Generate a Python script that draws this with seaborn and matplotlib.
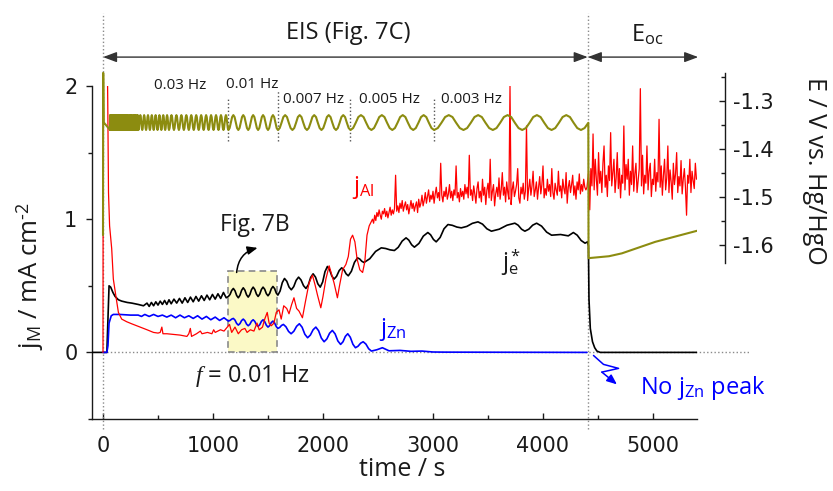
import numpy as np
import pandas as pd
import matplotlib
matplotlib.use("Agg")
import matplotlib.pyplot as plt
import seaborn as sns
from matplotlib.patches import Rectangle
from matplotlib.ticker import FixedLocator

# ---------------- data ----------------
# j_e* (black): time / s and current density / mA cm-2
je_t = [-100, 35, 45, 55, 70, 90, 110, 140, 170, 220, 262, 320, 368,
        400, 420, 440, 460, 480, 500, 520, 540, 560, 580, 600, 620,
        645, 670, 695, 720, 745, 770, 795, 820, 845, 870, 895, 920, 945, 970, 995, 1020, 1045, 1070, 1095, 1120,
        1140, 1155, 1170, 1185, 1200, 1215, 1230, 1245, 1260, 1275, 1290, 1305, 1320, 1335, 1350, 1365,
        1380, 1395, 1410, 1425, 1440, 1455, 1470, 1485, 1500, 1515, 1530, 1545, 1560, 1575,
        1590, 1610, 1630, 1650, 1671, 1691, 1712, 1734, 1756, 1778, 1800, 1823, 1845, 1867, 1888,
        1910, 1932, 1953, 1975, 1997, 2018, 2040, 2060, 2080, 2100, 2123, 2147, 2170, 2190, 2210,
        2230, 2258, 2286, 2314, 2334, 2353, 2373, 2425, 2478, 2530, 2570, 2609, 2649, 2684, 2720,
        2755, 2780, 2806, 2831, 2872, 2912, 2953, 2978, 3004, 3029, 3065, 3100, 3136, 3176, 3217,
        3257, 3308, 3358, 3409, 3450, 3490, 3531, 3602, 3673, 3744, 3774, 3805, 3835, 3871, 3906,
        3942, 3987, 4033, 4078, 4160, 4230, 4276, 4311, 4347, 4382, 4405,
        4413, 4418, 4430, 4450, 4470, 4490, 4520, 5400]
je_v = [0, 0, 0.25, 0.50, 0.49, 0.45, 0.42, 0.395, 0.385, 0.375, 0.37, 0.36, 0.35,
        0.37, 0.345, 0.375, 0.35, 0.38, 0.355, 0.385, 0.36, 0.39, 0.36, 0.395, 0.365,
        0.40, 0.37, 0.405, 0.37, 0.41, 0.375, 0.415, 0.38, 0.42, 0.385, 0.425, 0.39, 0.43, 0.395, 0.435, 0.40, 0.44, 0.405, 0.45, 0.41,
        0.42, 0.435, 0.465, 0.48, 0.4625, 0.4275, 0.41, 0.429, 0.466, 0.485, 0.4675, 0.4325, 0.415, 0.434, 0.471, 0.49,
        0.4725, 0.4375, 0.42, 0.4375, 0.4725, 0.49, 0.474, 0.441, 0.425, 0.4425, 0.4775, 0.495, 0.479, 0.446,
        0.43, 0.461, 0.524, 0.555, 0.534, 0.491, 0.47, 0.494, 0.541, 0.565, 0.544, 0.501, 0.48, 0.508, 0.563,
        0.59, 0.565, 0.515, 0.49, 0.529, 0.606, 0.645, 0.621, 0.574, 0.55, 0.571, 0.614, 0.635, 0.62, 0.59,
        0.575, 0.609, 0.676, 0.71, 0.701, 0.684, 0.675, 0.703, 0.758, 0.785, 0.78, 0.77, 0.765, 0.789, 0.836,
        0.86, 0.843, 0.808, 0.79, 0.818, 0.873, 0.90, 0.883, 0.848, 0.83, 0.863, 0.928, 0.96, 0.954, 0.941,
        0.935, 0.946, 0.969, 0.98, 0.963, 0.928, 0.91, 0.925, 0.955, 0.97, 0.955, 0.925, 0.91, 0.925, 0.955,
        0.97, 0.948, 0.903, 0.88, 0.885, 0.875, 0.90, 0.88, 0.84, 0.82, 0.83,
        0.80, 0.40, 0.18, 0.08, 0.035, 0.01, 0.0, 0.0]

# j_Zn (blue)
jzn_t = [0, 35, 45, 55, 75, 94, 150, 250,
         320, 350, 380, 420, 460, 500, 540, 580, 620, 660, 700, 740, 780, 820, 860, 900, 940, 980, 1020, 1060, 1100,
         1140, 1155, 1170, 1185, 1200, 1215, 1230, 1245, 1260, 1275, 1290, 1305, 1320, 1335, 1350, 1365,
         1380, 1395, 1410, 1425, 1440, 1455, 1470, 1485, 1500, 1515, 1530, 1545, 1560, 1575,
         1590, 1607, 1623, 1640, 1663, 1687, 1710, 1735, 1760, 1785, 1810, 1835, 1860, 1885, 1910,
         1935, 1960, 1985, 2010, 2035, 2060, 2085, 2110, 2135, 2160, 2182, 2203, 2225, 2248, 2272,
         2295, 2318, 2342, 2365, 2390, 2415, 2440, 2490, 2540, 2600, 2700, 2800, 2900, 3000, 3100, 4400]
jzn_v = [0, 0, 0.05, 0.22, 0.275, 0.285, 0.285, 0.28,
         0.28, 0.27, 0.285, 0.27, 0.285, 0.27, 0.28, 0.265, 0.28, 0.26, 0.28, 0.26, 0.275, 0.255, 0.275, 0.25, 0.27, 0.245, 0.265, 0.24, 0.26,
         0.235, 0.24, 0.25, 0.255, 0.2425, 0.2175, 0.205, 0.216, 0.239, 0.25, 0.2375, 0.2125, 0.20, 0.211, 0.234, 0.245,
         0.2325, 0.2075, 0.195, 0.2075, 0.2325, 0.245, 0.231, 0.204, 0.19, 0.201, 0.224, 0.235, 0.221, 0.194,
         0.18, 0.1875, 0.2025, 0.21, 0.1925, 0.1575, 0.14, 0.159, 0.196, 0.215, 0.189, 0.136, 0.11, 0.13, 0.17,
         0.19, 0.1625, 0.1075, 0.08, 0.101, 0.144, 0.165, 0.139, 0.086, 0.06, 0.08, 0.12, 0.14, 0.114, 0.061,
         0.035, 0.046, 0.069, 0.08, 0.0625, 0.0275, 0.01, 0.02, 0.035, 0.012, 0.015, 0.008, 0.01, 0.003, 0.002, 0.0]

# j_Al (red): start-up transient and the slow EIS blocks
jal_t = [0, 2, 38, 43, 50, 60, 79, 94, 110, 125, 140, 170, 216, 260, 338, 400, 459, 500, 520, 535,
         545, 581, 640, 700, 763, 780, 794, 805, 850, 885, 900, 950, 990, 1006, 1020, 1068, 1100, 1130,
         1150, 1170, 1200, 1230, 1260, 1290, 1310, 1340, 1372, 1400, 1420, 1450, 1470, 1493, 1510, 1530, 1554, 1575, 1600, 1620,
         1643, 1670, 1691, 1715, 1736, 1760, 1782, 1813, 1840, 1873, 1904, 1930, 1950, 1980, 2000, 2026, 2056, 2080, 2101, 2131,
         2150, 2178, 2208, 2230, 2250, 2269, 2290, 2310, 2335, 2360, 2380, 2400, 2420]
jal_v = [0, 2.3, 2.3, 1.9, 1.2, 0.95, 0.78, 0.55, 0.46, 0.38, 0.30, 0.25, 0.23, 0.215, 0.19, 0.17, 0.15, 0.145, 0.15, 0.19,
         0.14, 0.14, 0.135, 0.13, 0.12, 0.14, 0.18, 0.12, 0.14, 0.16, 0.14, 0.15, 0.14, 0.17, 0.15, 0.17, 0.16, 0.19,
         0.21, 0.15, 0.19, 0.14, 0.17, 0.18, 0.15, 0.17, 0.16, 0.22, 0.17, 0.19, 0.25, 0.30, 0.22, 0.20, 0.22, 0.30, 0.32, 0.25,
         0.35, 0.33, 0.29, 0.36, 0.41, 0.33, 0.31, 0.26, 0.38, 0.52, 0.58, 0.50, 0.43, 0.335, 0.42, 0.55, 0.65, 0.58, 0.52, 0.41,
         0.50, 0.62, 0.66, 0.72, 0.85, 0.88, 0.83, 0.70, 0.62, 0.60, 0.68, 0.88, 0.95]
# j_Al during the low-frequency EIS blocks, one reading every 10 s from 2450 s
jal_eis_t0 = 2450
jal_eis_v = [1.00, 0.97, 1.03, 0.99, 1.05, 1.02, 1.07, 1.03, 1.00, 1.06, 1.04, 1.08, 1.02, 1.06, 1.01, 1.05, 1.09, 1.03, 1.07, 1.04,
             1.08, 1.33, 1.06, 1.10, 1.05, 1.12, 1.08, 1.14, 1.06, 1.10, 1.13, 1.07, 1.11, 1.04, 1.09, 1.14, 1.08, 1.12, 1.06, 1.10,
             1.13, 1.05, 1.15, 1.09, 1.12, 1.18, 1.10, 1.14, 1.20, 1.12, 1.17, 1.22, 1.13, 1.18, 1.15, 1.21, 1.12, 1.19, 1.24, 1.16,
             1.20, 1.14, 1.42, 1.18, 1.13, 1.21, 1.17, 1.24, 1.15, 1.19, 1.26, 1.16, 1.21, 1.14, 1.22, 1.18, 1.40, 1.16, 1.20, 1.13,
             1.23, 1.17, 1.21, 1.15, 1.26, 1.19, 1.24, 1.16, 1.48, 1.18, 1.22, 1.14, 1.25, 1.19, 1.12, 1.23, 1.28, 1.16, 1.21, 1.13,
             1.30, 1.18, 1.24, 1.11, 1.22, 1.27, 1.16, 1.45, 1.14, 1.21, 1.26, 1.10, 1.19, 1.24, 1.17, 1.31, 1.15, 1.22, 1.35, 1.18,
             1.24, 1.13, 1.28, 1.20, 1.15, 2.00, 1.11, 1.22, 1.28, 1.17, 1.21, 1.26, 1.38, 1.16, 1.12, 1.24, 1.19, 1.27, 1.15, 1.21,
             1.70, 1.14, 1.23, 1.30, 1.18, 1.25, 1.36, 1.17, 1.22, 1.28, 1.15, 1.24, 1.32, 1.19, 1.26, 1.40, 1.16, 1.23, 1.18, 1.30,
             1.21, 1.26, 1.17, 1.38, 1.20, 1.15, 1.27, 1.22, 1.18, 1.36, 1.21, 1.25, 1.16, 1.30, 1.23, 1.19, 1.35, 1.12, 1.24, 1.29,
             1.20, 1.26, 1.33, 1.18, 1.25, 1.15, 1.28, 1.22, 1.34, 1.19, 1.26, 1.21, 1.30, 1.24, 1.22]
jal_switch_t = [4400, 4415, 4425]
jal_switch_v = [1.24, 1.36, 1.07]
# j_Al at open circuit, one reading every 10 s from 4435 s
jal_oc_t0 = 4435
jal_oc_v = [1.38, 1.25, 1.64, 1.22, 1.45, 1.30, 1.18, 1.50, 1.27, 1.36, 1.20, 1.42, 1.55, 1.24, 1.33, 1.17, 1.40, 1.29, 1.65, 1.25,
            1.35, 1.45, 1.20, 1.31, 1.50, 1.23, 1.38, 1.16, 1.33, 1.27, 1.70, 1.22, 1.41, 1.30, 1.45, 1.18, 1.36, 1.26, 1.55, 1.21,
            1.34, 1.42, 1.20, 1.29, 1.38, 1.98, 1.25, 1.48, 1.19, 1.33, 1.27, 1.55, 1.22, 1.36, 1.42, 1.17, 1.30, 1.26, 1.45, 1.21,
            1.35, 1.28, 1.75, 1.24, 1.40, 1.18, 1.33, 1.45, 1.22, 1.31, 1.55, 1.20, 1.37, 1.28, 1.15, 1.42, 1.26, 1.34, 1.50, 1.20,
            1.32, 1.25, 1.44, 1.19, 1.30, 1.38, 1.24, 1.03, 1.33, 1.27, 1.45, 1.20, 1.36, 1.29, 1.23, 1.42, 1.30]
sample_step = 10

# Electrode potential (olive, right axis) / V vs. Hg/HgO
E_lead_t = [0, 2, 6]
E_lead_v = [-1.58, -1.242, -1.345]
# one perturbation cycle, sampled at eighths, starting at the minimum
E_cycle = [-1.361, -1.357, -1.346, -1.334, -1.330, -1.334, -1.346, -1.357]
# EIS frequency blocks: start, end (s) and number of cycles in each
eis_start = [64, 200, 322, 600, 1140, 1590, 2250, 3010]
eis_end = [200, 322, 600, 1140, 1590, 2250, 3010, 4345]
eis_cycles = [45, 10, 8, 12, 5, 5, 4, 5]
E_tail_t = [4345, 4378, 4412, 4414, 4600, 4717, 5021, 5400]
E_tail_v = [-1.361, -1.357, -1.346, -1.628, -1.624, -1.618, -1.594, -1.571]

# frequency labels and the times at which each block starts
freq_labels = ["0.03 Hz", "0.01 Hz", "0.007 Hz", "0.005 Hz", "0.003 Hz"]
freq_marks = [1140, 1588, 2249, 3011]

x_ticks = [0, 1000, 2000, 3000, 4000, 5000]
y_ticks = [0, 1, 2]
E_ticks = [-1.6, -1.5, -1.4, -1.3]

assert len(je_t) == len(je_v) and len(jzn_t) == len(jzn_v) and len(jal_t) == len(jal_v)

# ---------------- build tables ----------------
E_t, E_v = list(E_lead_t), list(E_lead_v)
for t0, t1, n in zip(eis_start, eis_end, eis_cycles):
    E_t.extend(np.linspace(t0, t1, n * len(E_cycle), endpoint=False))
    E_v.extend(E_cycle * n)
E_t += E_tail_t
E_v += E_tail_v

al_t = (list(jal_t)
        + [jal_eis_t0 + sample_step * i for i in range(len(jal_eis_v))]
        + jal_switch_t
        + [jal_oc_t0 + sample_step * i for i in range(len(jal_oc_v))])
al_v = list(jal_v) + jal_eis_v + jal_switch_v + jal_oc_v

df_e = pd.DataFrame({"time": je_t, "j": je_v})
df_zn = pd.DataFrame({"time": jzn_t, "j": jzn_v})
df_al = pd.DataFrame({"time": al_t, "j": al_v})
df_E = pd.DataFrame({"time": E_t, "E": E_v})

# ---------------- style ----------------
sns.set_theme(style="ticks")
plt.rcParams["font.family"] = ["Open Sans", "DejaVu Sans"]
plt.rcParams["mathtext.fontset"] = "custom"
plt.rcParams["mathtext.rm"] = "Open Sans"
plt.rcParams["mathtext.it"] = "Liberation Serif:italic"
plt.rcParams["mathtext.bf"] = "Open Sans:bold"
plt.rcParams["axes.linewidth"] = 1.0

W, H = 833, 491
fig = plt.figure(figsize=(W / 100, H / 100), dpi=100)


def px_box(l, r, t, b):
    return [l / W, 1 - b / H, (r - l) / W, (b - t) / H]


ax = fig.add_axes(px_box(92, 697, 86, 419))
axE = fig.add_axes(px_box(92, 697, 60, 419))
axE.patch.set_visible(False)

RED, BLUE, BLACK, OLIVE, GREY = "#ff0000", "#0000ff", "#000000", "#8c8c10", "#8a8a8a"
TXT = "#1a1a1a"

# guide lines and highlighted window
ax.plot([0, 5885], [0, 0], ls=":", color=GREY, lw=1.0, clip_on=False, zorder=1)
for tv in (0, 4407):
    ax.plot([tv, tv], [-0.577, 2.547], ls=":", color=GREY, lw=1.0, clip_on=False, zorder=1)
ax.add_patch(Rectangle((1140, 0), 442, 0.61, facecolor="#fbf9c6", edgecolor=GREY,
                       lw=1.2, ls=(0, (4, 2.5)), zorder=1.5))

# traces
line_kw = dict(estimator=None, sort=False, solid_joinstyle="round")
sns.lineplot(data=df_e, x="time", y="j", ax=ax, color=BLACK, lw=1.2, zorder=3, **line_kw)
sns.lineplot(data=df_zn, x="time", y="j", ax=ax, color=BLUE, lw=1.2, zorder=3.2, **line_kw)
sns.lineplot(data=df_al, x="time", y="j", ax=ax, color=RED, lw=0.9, zorder=3.4, **line_kw)
sns.lineplot(data=df_E, x="time", y="E", ax=axE, color=OLIVE, lw=1.5, zorder=3, **line_kw)

# ---------------- axes ----------------
ax.set_xlim(-100, 5400)
ax.set_ylim(-0.5, 2.0)
axE.set_xlim(-100, 5400)
axE.set_ylim(-1.9631, -1.2152)
ax.set_xlabel("")
ax.set_ylabel("")
axE.set_xlabel("")
axE.set_ylabel("")

for s in ("top", "right"):
    ax.spines[s].set_visible(False)
for s in ("left", "bottom"):
    ax.spines[s].set_color(TXT)
for s in ("left", "top", "bottom"):
    axE.spines[s].set_visible(False)
axE.spines["right"].set_position(("outward", 20.2))
axE.spines["right"].set_bounds(-1.6375, -1.2417)
axE.spines["right"].set_color(TXT)

tick_font = dict(fontfamily="DejaVu Sans", fontsize=15, color=TXT)
ax.set_xticks(x_ticks, labels=[str(v) for v in x_ticks], **tick_font)
ax.set_yticks(y_ticks, labels=[str(v) for v in y_ticks], **tick_font)
ax.xaxis.set_minor_locator(FixedLocator([500, 1500, 2500, 3500, 4500]))
ax.yaxis.set_minor_locator(FixedLocator([-0.5, 0.5, 1.5]))
ax.tick_params(axis="x", which="both", direction="in", pad=12, color=TXT, width=1.0)
ax.tick_params(axis="x", which="major", length=4.5)
ax.tick_params(axis="x", which="minor", length=3)
ax.tick_params(axis="y", which="both", direction="out", pad=6, color=TXT, width=1.0)
ax.tick_params(axis="y", which="major", length=4.5)
ax.tick_params(axis="y", which="minor", length=3)

axE.set_xticks([])
axE.yaxis.tick_right()
axE.set_yticks(E_ticks, labels=[f"{v:.1f}" for v in E_ticks], **tick_font)
axE.yaxis.set_minor_locator(FixedLocator([-1.55, -1.45, -1.35, -1.25]))
axE.tick_params(axis="y", which="both", direction="in", pad=6, color=TXT, width=1.0,
                left=False, right=True, labelleft=False, labelright=True)
axE.tick_params(axis="y", which="major", length=4.5)
axE.tick_params(axis="y", which="minor", length=3)

# axis titles
fig.text(30 / W, 1 - 276 / H, r"j$_{\rm M}$ / mA cm$^{\text{-2}}$", rotation=90,
         ha="center", va="center", fontsize=18.5, color=TXT)
fig.text(402 / W, 1 - 470 / H, "time / s", ha="center", va="center", fontsize=18, color=TXT)
fig.text(814 / W, 1 - 171 / H, "E / V vs. Hg/HgO", rotation=270,
         ha="center", va="center", fontsize=18, color=TXT)

# ---------------- annotations ----------------
arrow_kw = dict(arrowstyle="<|-|>,head_length=0.75,head_width=0.28", color="#333333",
                lw=1.0, shrinkA=0, shrinkB=0, mutation_scale=11)
ax.annotate("", xy=(0, 2.217), xytext=(4407, 2.217), arrowprops=arrow_kw, annotation_clip=False)
ax.annotate("", xy=(4407, 2.217), xytext=(5411, 2.217), arrowprops=arrow_kw, annotation_clip=False)
ax.text(2226, 2.40, "EIS (Fig. 7C)", ha="center", va="center", fontsize=17, color=TXT)
ax.text(4945, 2.38, r"E$_{\rm oc}$", ha="center", va="center", fontsize=17, color=TXT)

freq_pos = [(465, 2.0), (1122, 2.015), (1633, 1.895), (2327, 1.895), (3075, 1.90)]
for lab, (tx, ty) in zip(freq_labels, freq_pos):
    ax.text(tx, ty, lab, ha="left", va="center", fontsize=11, color=TXT)
for tm, top in zip(freq_marks, [1.918, 1.963, 1.91, 1.918]):
    ax.plot([tm, tm], [1.588, top], ls=":", color="#555555", lw=1.0, clip_on=False, zorder=2)

ax.text(2263, 1.236, r"j$_{\rm Al}$", color=RED, ha="left", va="center", fontsize=17)
ax.text(3622, 0.674, r"j$_{\rm e}^{\rm *}$", color=TXT, ha="left", va="center", fontsize=17)
ax.text(2509, 0.172, r"j$_{\rm Zn}$", color=BLUE, ha="left", va="center", fontsize=17)
ax.text(1067, 0.96, "Fig. 7B", color=TXT, ha="left", va="center", fontsize=16.5)
ax.text(839, -0.18, r"$f$ = 0.01 Hz", color=TXT, ha="left", va="center", fontsize=17)
ax.text(4881, -0.27, r"No j$_{\rm Zn}$ peak", color=BLUE, ha="left", va="center", fontsize=17)

ax.annotate("", xy=(1405, 0.785), xytext=(1215, 0.60),
            arrowprops=dict(arrowstyle="-|>,head_length=0.6,head_width=0.25",
                            connectionstyle="arc3,rad=-0.35", color=BLACK, lw=1.1,
                            mutation_scale=10, shrinkA=0, shrinkB=0))
ax.plot([4459, 4550, 4687, 4535], [-0.023, -0.09, -0.12, -0.148], color=BLUE, lw=1.1,
        clip_on=False, zorder=4)
ax.annotate("", xy=(4672, -0.24), xytext=(4535, -0.148),
            arrowprops=dict(arrowstyle="-|>,head_length=0.6,head_width=0.25", color=BLUE,
                            lw=1.1, mutation_scale=10, shrinkA=0, shrinkB=0))

fig.savefig("out.png", dpi=100)
